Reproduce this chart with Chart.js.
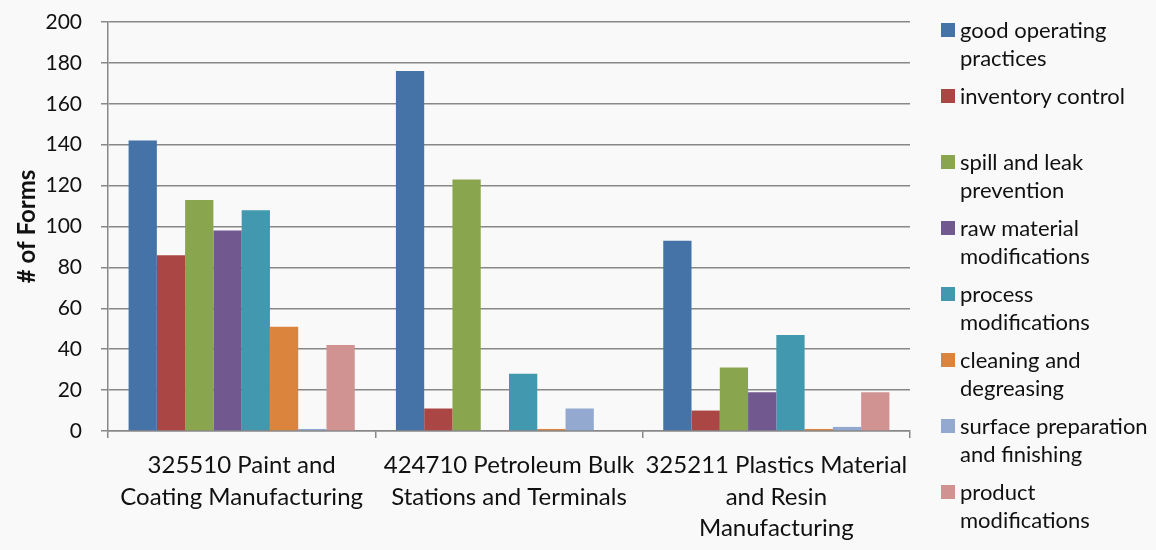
<!DOCTYPE html>
<html>
<head>
<meta charset="utf-8">
<script src="https://cdn.jsdelivr.net/npm/chart.js@4.4.1/dist/chart.umd.min.js"></script>
<style>
  html, body { margin: 0; padding: 0; background: #f9f9f9; }
  #wrap { position: relative; width: 1156px; height: 550px; }
  #legend { position: absolute; left: 941px; top: 16px; font-family: Lato, "Open Sans", sans-serif; font-size: 22px; color: #111; }
  .item { position: relative; height: 66px; }
  .sw { position: absolute; left: 0; top: 7px; width: 14px; height: 14px; }
  .tx { position: absolute; left: 19px; top: 0; line-height: 28px; width: 220px; white-space: nowrap; }
</style>
</head>
<body>
<div id="wrap">
  <canvas id="c" width="1156" height="550"></canvas>
  <div id="legend"></div>
</div>
<script>
const categories = [
  ["325510 Paint and", "Coating Manufacturing"],
  ["424710 Petroleum Bulk", "Stations and Terminals"],
  ["325211 Plastics Material", "and Resin", "Manufacturing"]
];
const seriesNames = [
  ["good operating", "practices"],
  ["inventory control"],
  ["spill and leak", "prevention"],
  ["raw material", "modifications"],
  ["process", "modifications"],
  ["cleaning and", "degreasing"],
  ["surface preparation", "and finishing"],
  ["product", "modifications"]
];
const goodOperating = [142, 176, 93];
const inventoryControl = [86, 11, 10];
const spillLeak = [113, 123, 31];
const rawMaterial = [98, 0, 19];
const processMods = [108, 28, 47];
const cleaning = [51, 1, 1];
const surfacePrep = [1, 11, 2];
const productMods = [42, 0, 19];
const yTicks = [0, 20, 40, 60, 80, 100, 120, 140, 160, 180, 200];
const colors = ["#4572A7", "#AA4643", "#89A54E", "#71588F", "#4198AF", "#DB843D", "#93A9CF", "#D19392"];

const seriesData = [goodOperating, inventoryControl, spillLeak, rawMaterial, processMods, cleaning, surfacePrep, productMods];
const datasets = seriesData.map((d, i) => ({
  label: seriesNames[i].join(" "),
  data: d,
  backgroundColor: colors[i],
  borderWidth: 0,
  categoryPercentage: 0.846,
  barPercentage: 1.0
}));

const FONT = "Lato, 'Open Sans', sans-serif";
const gridColor = "#888888";

new Chart(document.getElementById("c"), {
  type: "bar",
  data: { labels: categories, datasets },
  options: {
    responsive: false,
    animation: false,
    layout: { padding: { left: 0, right: 246, top: 22, bottom: 0 } },
    plugins: { legend: { display: false }, tooltip: { enabled: false } },
    scales: {
      x: {
        grid: { offset: true, drawOnChartArea: false, drawTicks: true, tickLength: 7, color: gridColor, lineWidth: 1.5 },
        border: { display: true, color: gridColor, width: 1.5 },
        ticks: { color: "#111", font: { family: FONT, size: 24, lineHeight: 1.3125 }, padding: 12, maxRotation: 0, autoSkip: false },
        afterFit: s => { s.height = 119; s.paddingLeft = 0; s.paddingRight = 0; }
      },
      y: {
        min: 0, max: 200,
        afterBuildTicks: s => { s.ticks = yTicks.map(v => ({ value: v })); },
        grid: { color: gridColor, lineWidth: 1.5, drawTicks: true, tickLength: 7 },
        border: { display: true, color: gridColor, width: 1.5 },
        ticks: { color: "#111", font: { family: FONT, size: 21 }, padding: 19 },
        title: { display: true, text: "# of Forms", color: "#111", font: { family: FONT, size: 24, weight: "bold" }, padding: 13 },
        afterFit: s => { s.width = 108; s.paddingTop = 0; s.paddingBottom = 0; }
      }
    }
  }
});

const legend = document.getElementById("legend");
seriesNames.forEach((lines, i) => {
  const it = document.createElement("div");
  it.className = "item";
  const sw = document.createElement("div");
  sw.className = "sw";
  sw.style.background = colors[i];
  const tx = document.createElement("div");
  tx.className = "tx";
  tx.innerHTML = lines.join("<br>");
  it.appendChild(sw); it.appendChild(tx);
  legend.appendChild(it);
});
</script>
</body>
</html>
